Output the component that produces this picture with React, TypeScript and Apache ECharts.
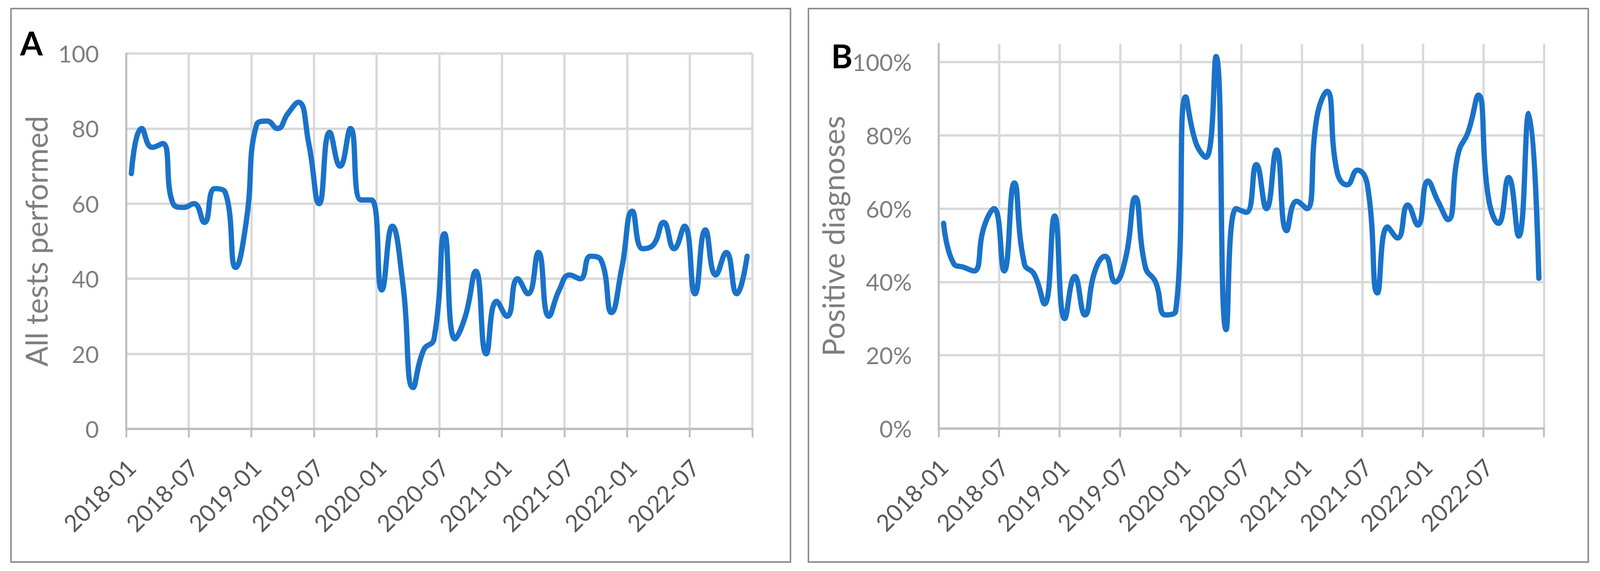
import React, { useEffect, useRef } from 'react';
import * as echarts from 'echarts';

const months: string[] = [
  '2018-01', '2018-02', '2018-03', '2018-04', '2018-05', '2018-06', '2018-07', '2018-08', '2018-09', '2018-10', '2018-11', '2018-12',
  '2019-01', '2019-02', '2019-03', '2019-04', '2019-05', '2019-06', '2019-07', '2019-08', '2019-09', '2019-10', '2019-11', '2019-12',
  '2020-01', '2020-02', '2020-03', '2020-04', '2020-05', '2020-06', '2020-07', '2020-08', '2020-09', '2020-10', '2020-11', '2020-12',
  '2021-01', '2021-02', '2021-03', '2021-04', '2021-05', '2021-06', '2021-07', '2021-08', '2021-09', '2021-10', '2021-11', '2021-12',
  '2022-01', '2022-02', '2022-03', '2022-04', '2022-05', '2022-06', '2022-07', '2022-08', '2022-09', '2022-10', '2022-11', '2022-12',
];

// Panel A: all tests performed (count per month)
const testsPerformed: number[] = [
  68, 80, 75, 76, 60, 59, 60, 55, 64, 63, 43, 55,
  81, 82, 80, 84, 87, 76, 60, 79, 70, 80, 61, 61,
  37, 54, 39, 11, 21, 24, 52, 24, 30, 42, 20, 34,
  30, 40, 36, 47, 30, 37, 41, 40, 46, 45, 31, 43,
  58, 48, 49, 55, 48, 54, 36, 53, 41, 47, 36, 46,
];

// Panel B: positive diagnoses (percent per month)
const positivePercent: number[] = [
  56, 45, 44, 43, 55, 60, 43, 67, 45, 42, 34, 58,
  30, 41.5, 31, 43, 47, 40, 46, 63, 44, 40, 31, 32,
  90.5, 78, 74, 101.5, 27, 60, 59, 72, 60, 76, 54, 62,
  60, 85, 92, 70, 66.5, 70.5, 66.5, 37, 55, 52, 61, 55.5,
  67.5, 62, 57, 75, 81, 91, 63, 56, 68.5, 52.5, 86, 41,
];

const yTicksA = { min: 0, max: 100, interval: 20 };
const yTicksB = { min: 0, max: 1.05, interval: 0.2 };

const FONT = 'Lato';
const LINE_COLOR = '#1a72c9';
const GRID_COLOR = '#d9d9d9';
const AXIS_COLOR = '#bfbfbf';
const BASE_W = 4364;
const BASE_H = 1463;

export default function App() {
  const ref = useRef<HTMLDivElement>(null);

  useEffect(() => {
    if (!ref.current) return;
    const W = window.innerWidth || BASE_W;
    const H = window.innerHeight || BASE_H;
    const sx = W / BASE_W;
    const sy = H / BASE_H;
    const f = Math.sqrt(sx * sy);
    const X = (v: number) => v * sx;
    const Y = (v: number) => v * sy;
    const F = (v: number) => v * f;
    const chart = echarts.init(ref.current, null, { renderer: 'svg' });

    const xAxisFor = (gridIndex: number) => ({
      type: 'category',
      gridIndex,
      data: months,
      boundaryGap: true,
      axisLine: { show: true, lineStyle: { color: AXIS_COLOR, width: F(6) } },
      axisTick: { show: true, interval: 5, length: Y(22), lineStyle: { color: AXIS_COLOR, width: F(5) } },
      axisLabel: {
        interval: 5,
        rotate: 45,
        margin: Y(88),
        color: '#595959',
        fontSize: F(62),
        fontFamily: FONT,
        hideOverlap: false,
      },
      splitLine: { show: true, interval: 5, lineStyle: { color: GRID_COLOR, width: F(6) } },
    });

    const option: any = {
      animation: false,
      backgroundColor: '#ffffff',
      textStyle: { fontFamily: FONT },
      graphic: [
        {
          type: 'rect',
          silent: true,
          shape: { x: X(30), y: Y(22), width: X(2126), height: Y(1418) },
          style: { fill: 'none', stroke: '#8c8c8c', lineWidth: F(4) },
        },
        {
          type: 'rect',
          silent: true,
          shape: { x: X(2205), y: Y(22), width: X(2127), height: Y(1418) },
          style: { fill: 'none', stroke: '#8c8c8c', lineWidth: F(4) },
        },
        {
          type: 'text',
          x: X(55),
          y: Y(110),
          style: {
            text: 'A',
            fontSize: F(86),
            fontWeight: 'bold',
            fontFamily: FONT,
            fill: '#000000',
            align: 'left',
            verticalAlign: 'middle',
          },
        },
        {
          type: 'text',
          x: X(2267),
          y: Y(143),
          style: {
            text: 'B',
            fontSize: F(86),
            fontWeight: 'bold',
            fontFamily: FONT,
            fill: '#000000',
            align: 'left',
            verticalAlign: 'middle',
          },
        },
      ],
      grid: [
        { left: X(344), top: Y(137), width: X(1708), height: Y(962) },
        { left: X(2560), top: Y(112), width: X(1651), height: Y(986) },
      ],
      xAxis: [xAxisFor(0), xAxisFor(1)],
      yAxis: [
        {
          type: 'value',
          gridIndex: 0,
          min: yTicksA.min,
          max: yTicksA.max,
          interval: yTicksA.interval,
          name: 'All tests performed',
          nameLocation: 'middle',
          nameRotate: 90,
          nameGap: X(205),
          nameTextStyle: { color: '#7f7f7f', fontSize: F(79), fontFamily: FONT },
          axisLine: { show: true, lineStyle: { color: AXIS_COLOR, width: F(5) } },
          axisTick: { show: false },
          axisLabel: { margin: X(74), color: '#7f7f7f', fontSize: F(62), fontFamily: FONT },
          splitLine: { show: true, lineStyle: { color: GRID_COLOR, width: F(6) } },
        },
        {
          type: 'value',
          gridIndex: 1,
          min: yTicksB.min,
          max: yTicksB.max,
          interval: yTicksB.interval,
          name: 'Positive diagnoses',
          nameLocation: 'middle',
          nameRotate: 90,
          nameGap: X(248),
          nameTextStyle: { color: '#7f7f7f', fontSize: F(79), fontFamily: FONT },
          axisLine: { show: true, lineStyle: { color: AXIS_COLOR, width: F(5) } },
          axisTick: { show: false },
          axisLabel: {
            margin: X(73),
            color: '#7f7f7f',
            fontSize: F(62),
            fontFamily: FONT,
            showMaxLabel: false,
            formatter: (v: number) => Math.round(v * 100) + '%',
          },
          splitLine: { show: true, showMaxLine: false, lineStyle: { color: GRID_COLOR, width: F(6) } },
        },
      ],
      series: [
        {
          name: 'All tests performed',
          type: 'line',
          xAxisIndex: 0,
          yAxisIndex: 0,
          data: testsPerformed,
          smooth: 0.5,
          symbol: 'none',
          lineStyle: { color: LINE_COLOR, width: F(14), cap: 'round', join: 'round' },
        },
        {
          name: 'Positive diagnoses',
          type: 'line',
          xAxisIndex: 1,
          yAxisIndex: 1,
          data: positivePercent.map((p) => p / 100),
          smooth: 0.5,
          symbol: 'none',
          lineStyle: { color: LINE_COLOR, width: F(14), cap: 'round', join: 'round' },
        },
      ],
    };
    chart.setOption(option);
    return () => {
      chart.dispose();
    };
  }, []);

  return (
    <div
      ref={ref}
      style={{ position: 'fixed', left: 0, top: 0, width: '100vw', height: '100vh', background: '#ffffff' }}
    />
  );
}
